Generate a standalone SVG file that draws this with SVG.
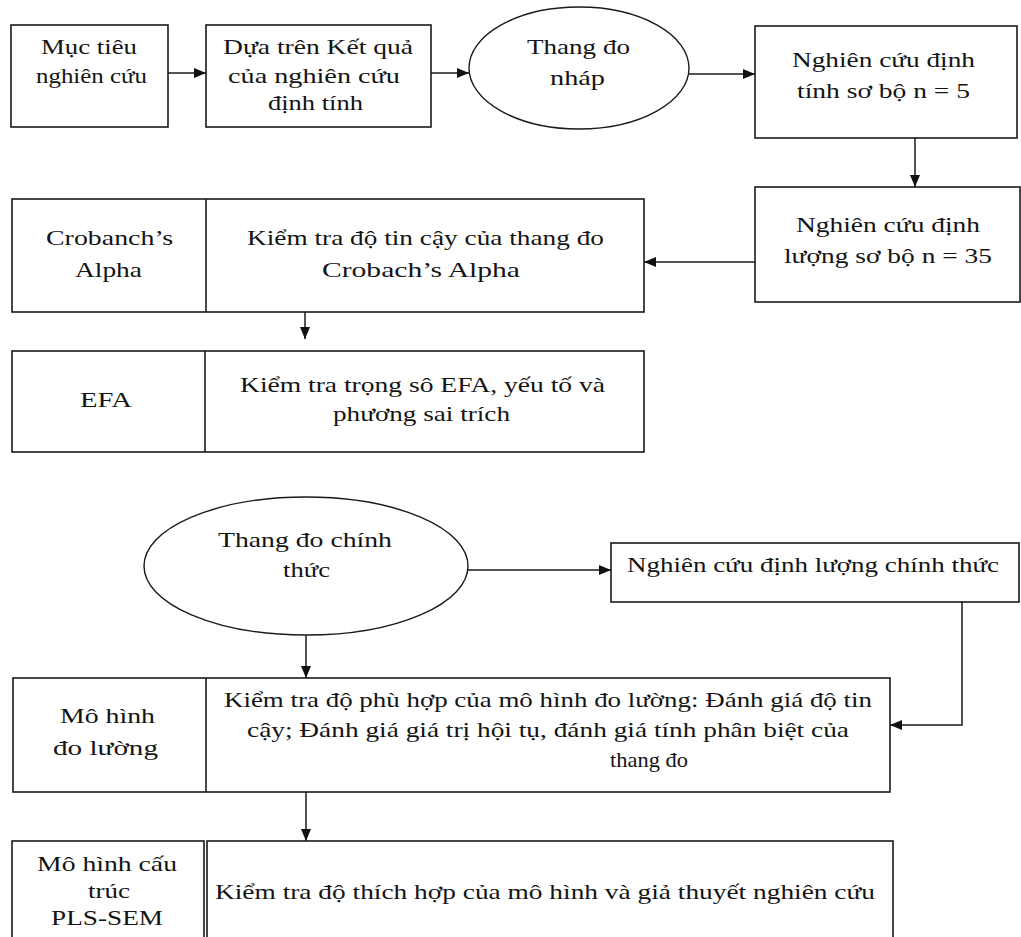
<svg xmlns="http://www.w3.org/2000/svg" width="1021" height="937" viewBox="0 0 1021 937">
  <style>
    .box { fill: #fff; stroke: #1a1a1a; stroke-width: 1.6; }
    .div { stroke: #1a1a1a; stroke-width: 1.6; fill: none; }
    .ell { fill: #fff; stroke: #1a1a1a; stroke-width: 1.4; }
    .edge { stroke: #1a1a1a; stroke-width: 1.5; fill: none; marker-end: url(#ah); }
    .edge-plain { stroke: #1a1a1a; stroke-width: 1.5; fill: none; }
    text { font-family: "Liberation Serif", "Times New Roman", serif; font-size: 22px; fill: #141414; text-anchor: middle; }
  </style>
  <defs>
    <marker id="ah" viewBox="0 0 12 10" refX="12" refY="5" markerWidth="12" markerHeight="10" orient="auto" markerUnits="userSpaceOnUse">
      <path d="M0,0 L12,5 L0,10 z" fill="#111"/>
    </marker>
  </defs>
  <rect width="1021" height="937" fill="#fff"/>

  <!-- connectors -->
  <g id="connectors">
    <line class="edge" x1="168" y1="73" x2="206" y2="73"/>
    <line class="edge" x1="421" y1="73" x2="469" y2="73"/>
    <line class="edge" x1="689" y1="74" x2="755" y2="74"/>
    <line class="edge" x1="915" y1="138" x2="915" y2="187"/>
    <line class="edge" x1="755" y1="262" x2="644" y2="262"/>
    <line class="edge" x1="305" y1="312" x2="305" y2="339"/>
    <line class="edge" x1="468" y1="570" x2="611" y2="570"/>
    <line class="edge" x1="306" y1="635" x2="306" y2="678"/>
    <polyline class="edge" points="962,602 962,725 890,725"/>
    <line class="edge" x1="306" y1="792" x2="306" y2="841"/>
  </g>

  <g id="muc-tieu">
    <rect class="box" x="11" y="25" width="157" height="102"/>
    <text x="89" y="54" textLength="96" lengthAdjust="spacingAndGlyphs">Mục tiêu</text>
    <text x="91.5" y="83" textLength="111" lengthAdjust="spacingAndGlyphs">nghiên cứu</text>
  </g>

  <g id="ket-qua-dinh-tinh">
    <rect class="box" x="206" y="25" width="225" height="102"/>
    <text x="318" y="54" textLength="190" lengthAdjust="spacingAndGlyphs">Dựa trên Kết quả</text>
    <text x="314" y="83" textLength="172" lengthAdjust="spacingAndGlyphs">của nghiên cứu</text>
    <text x="315.5" y="110" textLength="95" lengthAdjust="spacingAndGlyphs">định tính</text>
  </g>

  <g id="thang-do-nhap">
    <ellipse class="ell" cx="579" cy="68" rx="110" ry="61"/>
    <text x="578.5" y="54" textLength="103" lengthAdjust="spacingAndGlyphs">Thang đo</text>
    <text x="577.5" y="85" textLength="55" lengthAdjust="spacingAndGlyphs">nháp</text>
  </g>

  <g id="dinh-tinh-so-bo">
    <rect class="box" x="755" y="26" width="262" height="112"/>
    <text x="883.5" y="67" textLength="183" lengthAdjust="spacingAndGlyphs">Nghiên cứu định</text>
    <text x="883.5" y="98" textLength="173" lengthAdjust="spacingAndGlyphs">tính sơ bộ n = 5</text>
  </g>

  <g id="dinh-luong-so-bo">
    <rect class="box" x="755" y="187" width="265" height="115"/>
    <text x="888" y="232" textLength="184" lengthAdjust="spacingAndGlyphs">Nghiên cứu định</text>
    <text x="888" y="263" textLength="208" lengthAdjust="spacingAndGlyphs">lượng sơ bộ n = 35</text>
  </g>

  <g id="cronbach">
    <rect class="box" x="12" y="199" width="632" height="113"/>
    <line class="div" x1="206" y1="199" x2="206" y2="312"/>
    <text x="109.5" y="245" textLength="127" lengthAdjust="spacingAndGlyphs">Crobanch’s</text>
    <text x="108.5" y="277" textLength="67" lengthAdjust="spacingAndGlyphs">Alpha</text>
    <text x="425.5" y="245" textLength="357" lengthAdjust="spacingAndGlyphs">Kiểm tra độ tin cậy của thang đo</text>
    <text x="421" y="277" textLength="198" lengthAdjust="spacingAndGlyphs">Crobach’s Alpha</text>
  </g>

  <g id="efa">
    <rect class="box" x="12" y="351" width="632" height="101"/>
    <line class="div" x1="205" y1="351" x2="205" y2="452"/>
    <text x="106" y="407" textLength="52" lengthAdjust="spacingAndGlyphs">EFA</text>
    <text x="422.5" y="392" textLength="365" lengthAdjust="spacingAndGlyphs">Kiểm tra trọng sô EFA, yếu tố và</text>
    <text x="421.5" y="421" textLength="177" lengthAdjust="spacingAndGlyphs">phương sai trích</text>
  </g>

  <g id="thang-do-chinh-thuc">
    <ellipse class="ell" cx="306" cy="566" rx="162" ry="69"/>
    <text x="305" y="547" textLength="174" lengthAdjust="spacingAndGlyphs">Thang đo chính</text>
    <text x="306.5" y="577" textLength="47" lengthAdjust="spacingAndGlyphs">thức</text>
  </g>

  <g id="dinh-luong-chinh-thuc">
    <rect class="box" x="611" y="543" width="408" height="59"/>
    <text x="813" y="572" textLength="372" lengthAdjust="spacingAndGlyphs">Nghiên cứu định lượng chính thức</text>
  </g>

  <g id="mo-hinh-do-luong">
    <rect class="box" x="13" y="678" width="877" height="114"/>
    <line class="div" x1="206" y1="678" x2="206" y2="792"/>
    <text x="107.5" y="723" textLength="95" lengthAdjust="spacingAndGlyphs">Mô hình</text>
    <text x="105.5" y="755" textLength="105" lengthAdjust="spacingAndGlyphs">đo lường</text>
    <text x="548" y="707" textLength="648" lengthAdjust="spacingAndGlyphs">Kiểm tra độ phù hợp của mô hình đo lường: Đánh giá độ tin</text>
    <text x="548" y="737" textLength="602" lengthAdjust="spacingAndGlyphs">cậy; Đánh giá giá trị hội tụ, đánh giá tính phân biệt của</text>
    <text x="649" y="767" textLength="78" lengthAdjust="spacingAndGlyphs">thang đo</text>
  </g>

  <g id="mo-hinh-cau-truc">
    <rect class="box" x="12" y="841" width="192" height="110"/>
    <rect class="box" x="207" y="841" width="686" height="110"/>
    <text x="107" y="871" textLength="140" lengthAdjust="spacingAndGlyphs">Mô hình cấu</text>
    <text x="109" y="898" textLength="42" lengthAdjust="spacingAndGlyphs">trúc</text>
    <text x="107" y="925" textLength="112" lengthAdjust="spacingAndGlyphs">PLS-SEM</text>
    <text x="545" y="899" textLength="660" lengthAdjust="spacingAndGlyphs">Kiểm tra độ thích hợp của mô hình và giả thuyết nghiên cứu</text>
  </g>
</svg>
